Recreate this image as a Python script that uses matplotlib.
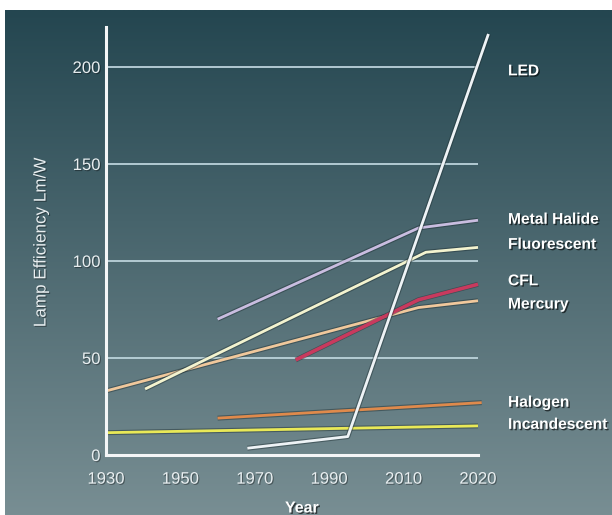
import numpy as np
import matplotlib
matplotlib.use("Agg")
import matplotlib.pyplot as plt
import matplotlib.patheffects as pe
import matplotlib.transforms as mtransforms

plt.rcParams['font.family'] = ['Liberation Sans', 'DejaVu Sans']

# ---------------- data ----------------
series_names = ["LED", "Metal Halide", "Fluorescent", "CFL", "Mercury", "Halogen", "Incandescent"]
led_years = [1968, 1995, 2021.4]
led_vals = [3.5, 9.5, 217]
mh_years = [1960, 2012, 2020]
mh_vals = [70, 117, 121]
fl_years = [1940.5, 2013, 2020]
fl_vals = [34, 104.5, 107]
cfl_years = [1981, 2012, 2020]
cfl_vals = [49, 80, 88]
merc_years = [1930, 2012, 2020]
merc_vals = [33, 76, 79.5]
hal_years = [1960, 2020.5]
hal_vals = [19, 27]
inc_years = [1930, 2020]
inc_vals = [11.5, 15]

x_ticks = [1930, 1950, 1970, 1990, 2010, 2020]
y_ticks = [0, 50, 100, 150, 200]

colors = {
    "LED": "#eef3f6",
    "Metal Halide": "#c9bde0",
    "Fluorescent": "#f3f3cf",
    "CFL": "#c83a5e",
    "Mercury": "#f0c89c",
    "Halogen": "#df8a4c",
    "Incandescent": "#e9e957",
}
label_y = {"LED": 198, "Metal Halide": 121.5, "Fluorescent": 108.6, "CFL": 89.8,
           "Mercury": 77.8, "Halogen": 27.2, "Incandescent": 15.8}

data = {
    "LED": (led_years, led_vals),
    "Metal Halide": (mh_years, mh_vals),
    "Fluorescent": (fl_years, fl_vals),
    "CFL": (cfl_years, cfl_vals),
    "Mercury": (merc_years, merc_vals),
    "Halogen": (hal_years, hal_vals),
    "Incandescent": (inc_years, inc_vals),
}

# ---------------- figure ----------------
W, H = 612, 515
fig = plt.figure(figsize=(W / 100, H / 100), dpi=100)
fig.patch.set_facecolor("white")

# gradient background panel
bg = fig.add_axes([5 / W, 0, 1 - 5 / W, (H - 10) / H], zorder=-10)
top = np.array([36, 70, 80]) / 255
bot = np.array([120, 142, 147]) / 255
t = np.linspace(0, 1, 256)[:, None]
grad = top[None, :] * (1 - t) + bot[None, :] * t
bg.imshow(grad[:, None, :], aspect="auto", extent=[0, 1, 0, 1], interpolation="bilinear")
bg.set_axis_off()

ax = fig.add_axes([106 / W, (H - 455) / H, (478 - 106) / W, (455 - 27) / H])
ax.set_facecolor("none")


def fwd(x):
    x = np.asarray(x, dtype=float)
    return np.where(x <= 2010, (x - 1930) / 20.0, 4 + (x - 2010) / 10.0)


def inv(p):
    p = np.asarray(p, dtype=float)
    return np.where(p <= 4, 1930 + 20.0 * p, 2010 + 10.0 * (p - 4))


ax.set_xscale("function", functions=(fwd, inv))
ax.set_xlim(1930, 2020)
ax.set_ylim(0, 220.6)

# grid lines
for yv in y_ticks[1:]:
    ax.axhline(yv, color="#bcd3db", lw=1.3, zorder=1)

shadow = [pe.Stroke(linewidth=3.6, foreground="#1c2c30", alpha=0.45), pe.Normal()]
order = ["Incandescent", "Halogen", "Mercury", "Fluorescent", "CFL", "Metal Halide", "LED"]
for name in order:
    xs, ys = data[name]
    lw = 2.6 if name == "CFL" else 2.0
    ax.plot(xs, ys, color=colors[name], lw=lw, solid_capstyle="butt",
            clip_on=False, zorder=3, path_effects=shadow)

# series labels
lab_fx = pe.withSimplePatchShadow(offset=(1, -1), shadow_rgbFace="black", alpha=0.6)
lab_tr = mtransforms.blended_transform_factory(fig.transFigure, ax.transData)
for name in series_names:
    ax.text(508 / W, label_y[name], name, transform=lab_tr,
            color="white", fontsize=11.2, fontweight="bold", ha="left", va="center",
            path_effects=[lab_fx])

# spines
for s in ["top", "right"]:
    ax.spines[s].set_visible(False)
for s in ["left", "bottom"]:
    ax.spines[s].set_color("#f4f6f7")
    ax.spines[s].set_linewidth(2.2)
    ax.spines[s].set_zorder(4)

ax.set_xticks(x_ticks)
ax.set_xticklabels([str(v) for v in x_ticks])
ax.set_yticks(y_ticks)
ax.set_yticklabels([str(v) for v in y_ticks])
ax.tick_params(length=0, colors="#e8eef0", labelsize=12)
ax.tick_params(axis="x", pad=12)
ax.tick_params(axis="y", pad=4)
txt_fx = [pe.withSimplePatchShadow(offset=(0.8, -0.8), shadow_rgbFace="black", alpha=0.35)]
for lab in ax.get_xticklabels() + ax.get_yticklabels():
    lab.set_path_effects(txt_fx)

fig.text(41 / W, 1 - 242 / H, "Lamp Efficiency Lm/W", rotation=90, ha="center", va="center",
         color="#e8eef0", fontsize=12.3, path_effects=txt_fx)
fig.text(302 / W, 1 - 508 / H, "Year", ha="center", va="center",
         color="white", fontsize=11.5, fontweight="bold", path_effects=[lab_fx])

fig.savefig("out.png", dpi=100)
